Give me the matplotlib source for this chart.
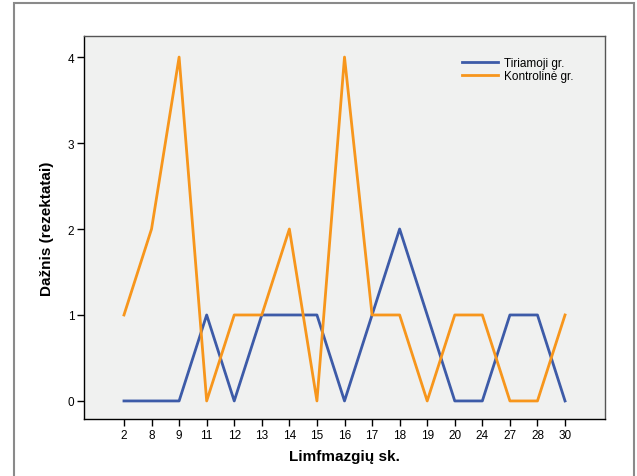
import matplotlib
matplotlib.use("Agg")
import matplotlib.pyplot as plt
from matplotlib.patches import Rectangle

plt.rcParams['font.family'] = ['Liberation Sans', 'DejaVu Sans']

categories = ['2', '8', '9', '11', '12', '13', '14', '15', '16', '17', '18', '19', '20', '24', '27', '28', '30']
tiriamoji = [0, 0, 0, 1, 0, 1, 1, 1, 0, 1, 2, 1, 0, 0, 1, 1, 0]
kontroline = [1, 2, 4, 0, 1, 1, 2, 0, 4, 1, 1, 0, 1, 1, 0, 0, 1]
yticks = [0, 1, 2, 3, 4]

W, H = 637, 477
fig = plt.figure(figsize=(W / 100, H / 100), dpi=100)
fig.patch.set_facecolor('white')

# outer frame
fig.patches.append(Rectangle((14 / W, -0.05), (634 - 14) / W, 1.05 - 4 / H,
                             transform=fig.transFigure, fill=False,
                             edgecolor='#8a8a8a', linewidth=1.5))

left, right, top, bottom = 84, 605, 37, 420
ax = fig.add_axes([left / W, 1 - bottom / H, (right - left) / W, (bottom - top) / H])
ax.set_facecolor('#f0f1f0')

x = list(range(len(categories)))
ax.plot(x, tiriamoji, color='#3d5ba8', linewidth=2, label='Tiriamoji gr.')
ax.plot(x, kontroline, color='#f7961c', linewidth=2, label='Kontrolinė gr.')

ax.set_xlim(-1.45, 17.45)
ax.set_ylim(-0.21, 4.245)
ax.set_xticks(x)
ax.set_xticklabels(categories)
ax.set_yticks(yticks)
ax.tick_params(axis='both', labelsize=8.5, length=5, width=1, color='black', pad=2)

for s in ['left', 'bottom']:
    ax.spines[s].set_color('black')
    ax.spines[s].set_linewidth(1)
for s in ['top', 'right']:
    ax.spines[s].set_color('#555555')
    ax.spines[s].set_linewidth(1)

ax.set_xlabel('Limfmazgių sk.', fontsize=11, fontweight='bold', labelpad=6)
ax.set_ylabel('Dažnis (rezektatai)', fontsize=11, fontweight='bold', labelpad=10)

leg = ax.legend(loc='upper right', bbox_to_anchor=(0.955, 0.967), frameon=False,
                fontsize=8.5, handlelength=3.0, handletextpad=0.5, labelspacing=0.1,
                borderaxespad=0.3)

fig.savefig('out.png', dpi=100)
